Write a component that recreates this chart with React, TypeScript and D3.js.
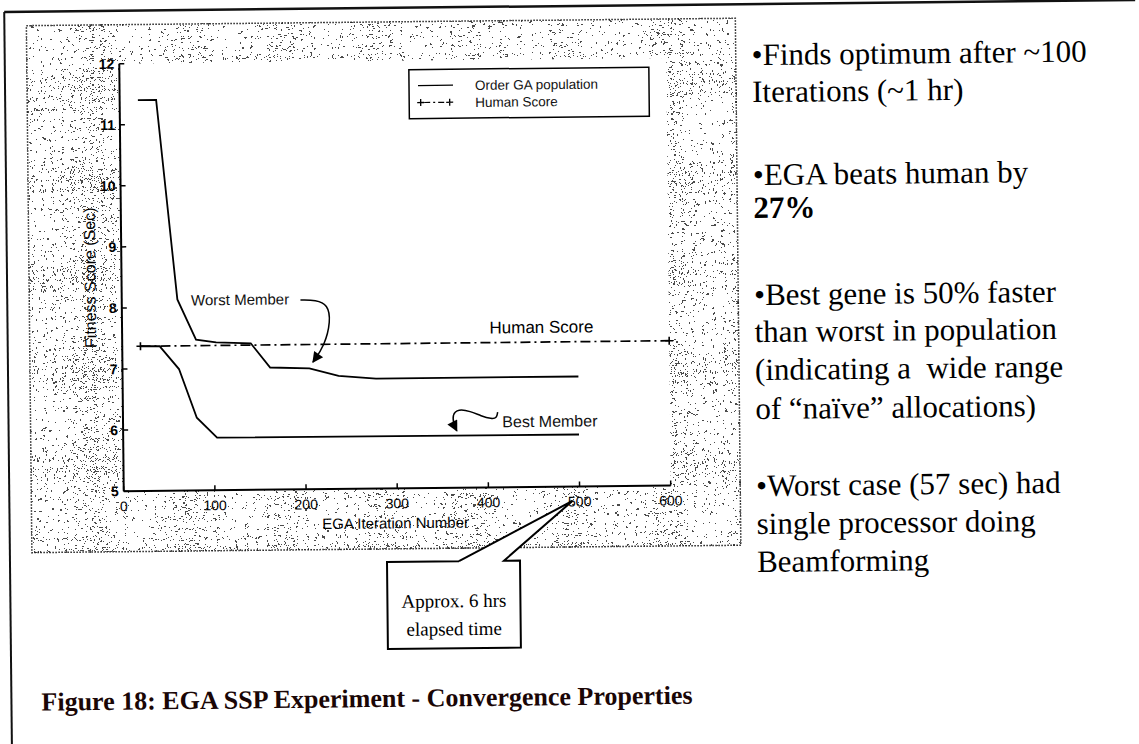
import * as d3 from 'd3';

// chart data
const iterTicks = [0, 100, 200, 300, 400, 500, 600];
const scoreTicks = [5, 6, 7, 8, 9, 10, 11, 12];

const worstIter = [20, 40, 61, 81, 103, 141, 162, 205, 237, 278, 500];
const worstScore = [11.4, 11.4, 8.13, 7.47, 7.42, 7.4, 7.0, 6.98, 6.85, 6.8, 6.8];

const bestIter = [20, 41, 62, 81, 103, 500];
const bestScore = [7.37, 7.37, 6.99, 6.19, 5.86, 5.85];

const humanIter = [20, 600];
const humanScore = [7.37, 7.37];

const legendLabels = ['Order GA population', 'Human Score'];

const notes = [
  { text: '•Finds optimum after ~100', bold: false },
  { text: 'Iterations (~1 hr)', bold: false },
  { text: '•EGA beats human by', bold: false },
  { text: '27%', bold: true },
  { text: '•Best gene is 50% faster', bold: false },
  { text: 'than worst in population', bold: false },
  { text: '(indicating a  wide range', bold: false },
  { text: 'of “naïve” allocations)', bold: false },
  { text: '•Worst case (57 sec) had', bold: false },
  { text: 'single processor doing', bold: false },
  { text: 'Beamforming', bold: false },
];
const noteBaselines = [67, 104, 187, 220, 307, 344, 382, 421, 498, 536, 574];

const caption = 'Figure 18: EGA SSP Experiment - Convergence Properties';
const callout = ['Approx. 6 hrs', 'elapsed time'];

const W = 1139;
const H = 744;
const sans = 'Liberation Sans, Arial, Helvetica, sans-serif';
const serif = 'Liberation Serif, Times New Roman, serif';

// speckle threshold for the scanned grey background
const speckle = Array.from({ length: 50 }, (_, i) => (i >= 30 ? 1 : 0)).join(' ');

export default function App() {
  const x = d3.scaleLinear().domain([0, 600]).range([122.5, 669.5]);
  const y = d3.scaleLinear().domain([5, 12]).range([486.5, 59]);

  const line = d3.line<[number, number]>().x(d => x(d[0])).y(d => y(d[1]));
  const worst = line(worstIter.map((v, i) => [v, worstScore[i]]));
  const best = line(bestIter.map((v, i) => [v, bestScore[i]]));
  const human = line(humanIter.map((v, i) => [v, humanScore[i]]));

  const curvy = d3.line<[number, number]>().x(d => x(d[0])).y(d => y(d[1])).curve(d3.curveBasis);
  const worstArrow = curvy([[196, 8.1], [213, 8.1], [226, 8.02], [229, 7.75], [222, 7.35], [209, 7.08]]);
  const bestArrow = curvy([[411, 6.23], [410, 6.13], [404, 6.12], [393, 6.17], [381, 6.25], [368, 6.29], [361, 6.2], [363, 6.02], [366, 5.93]]);

  const stip = { x: 30, y: 20, w: 709, h: 527 };

  return (
    <svg width={W} height={H} style={{ position: 'absolute', left: 0, top: 0, background: '#fff' }}>
      <defs>
        <filter id="stip" x="0" y="0" width="100%" height="100%" colorInterpolationFilters="sRGB">
          <feTurbulence type="fractalNoise" baseFrequency="3.1" numOctaves="1" seed="11" />
          <feColorMatrix type="matrix" values="0 0 0 0 0  0 0 0 0 0  0 0 0 0 0  1 0 0 0 0" />
          <feComponentTransfer>
            <feFuncA type="discrete" tableValues={speckle} />
          </feComponentTransfer>
        </filter>
        <marker id="ah" viewBox="0 0 10 10" refX="9" refY="5" markerWidth="13" markerHeight="11"
          markerUnits="userSpaceOnUse" orient="auto">
          <path d="M0,0 L10,5 L0,10 z" fill="#000" />
        </marker>
      </defs>

      <g transform="rotate(-0.6 570 370)">
        {/* page frame */}
        <line x1={8} x2={W} y1={6} y2={6} stroke="#111" strokeWidth={2.5} />
        <line x1={8} x2={8} y1={6} y2={H + 10} stroke="#111" strokeWidth={2} />

        {/* stippled chart background */}
        <rect x={stip.x} y={stip.y} width={stip.w} height={stip.h} fill="#fff" />
        <rect x={stip.x} y={stip.y} width={stip.w} height={stip.h} fill="#fff" filter="url(#stip)" opacity={0.7} />
        <rect x={stip.x} y={stip.y} width={stip.w} height={stip.h} fill="none" stroke="#222"
          strokeWidth={1.5} strokeDasharray="1.5 1.5" />

        {/* plot area */}
        <rect x={x(0)} y={y(12)} width={x(600) - x(0)} height={y(5) - y(12)} fill="#fff" />

        {/* axes */}
        <line x1={x(0)} x2={x(0)} y1={y(12)} y2={y(5)} stroke="#000" strokeWidth={2} />
        <line x1={x(0)} x2={x(600)} y1={y(5)} y2={y(5)} stroke="#000" strokeWidth={2} />
        {scoreTicks.map(t => (
          <g key={'ys' + t}>
            <line x1={x(0)} x2={x(0) + 5} y1={y(t)} y2={y(t)} stroke="#000" strokeWidth={1.5} />
            <text x={x(0) - 5} y={y(t) + 5} textAnchor="end" fontFamily={sans} fontSize={14}
              fontWeight="bold" fill="#000">{t}</text>
          </g>
        ))}
        {iterTicks.map(t => (
          <g key={'xs' + t}>
            <line x1={x(t)} x2={x(t)} y1={y(5)} y2={y(5) - 5} stroke="#000" strokeWidth={1.5} />
            <text x={x(t)} y={y(5) + 20} textAnchor="middle" fontFamily={sans} fontSize={14}
              fill="#000">{t}</text>
          </g>
        ))}
        <text x={x(300) - 2} y={y(5) + 40} textAnchor="middle" fontFamily={sans} fontSize={15} fill="#000">EGA Iteration Number</text>
        <text transform={`translate(${x(0) - 26},${y(8.5)}) rotate(-90)`} textAnchor="middle"
          fontFamily={sans} fontSize={16} fill="#000">Fitness Score (Sec)</text>

        {/* series */}
        <path d={human ?? ''} fill="none" stroke="#000" strokeWidth={1.7} strokeDasharray="10 4 2 4" />
        {humanIter.map((v, i) => (
          <path key={'hm' + i} d={`M${x(v) - 4},${y(humanScore[i])}h8M${x(v)},${y(humanScore[i]) - 4}v8`}
            stroke="#000" strokeWidth={1.6} />
        ))}
        <path d={worst ?? ''} fill="none" stroke="#000" strokeWidth={1.8} />
        <path d={best ?? ''} fill="none" stroke="#000" strokeWidth={1.8} />

        {/* annotations */}
        <text x={x(403)} y={y(7.52)} fontFamily={sans} fontSize={17} fill="#000">Human Score</text>
        <text x={x(76)} y={y(8.03)} fontFamily={sans} fontSize={15} fill="#111">Worst Member</text>
        <path d={worstArrow ?? ''} fill="none" stroke="#000" strokeWidth={1.5} markerEnd="url(#ah)" />
        <text x={x(416)} y={y(5.98)} fontFamily={sans} fontSize={16} fill="#111">Best Member</text>
        <path d={bestArrow ?? ''} fill="none" stroke="#000" strokeWidth={1.5} markerEnd="url(#ah)" />

        {/* legend */}
        <rect x={412} y={68} width={240} height={49} fill="#fff" stroke="#000" strokeWidth={1.5} />
        <line x1={421} x2={456} y1={84} y2={84} stroke="#000" strokeWidth={1.3} />
        <path d="M420,101h7M423.5,97.5v7M449,101h7M452.5,97.5v7" stroke="#000" strokeWidth={1.3} />
        <line x1={427} x2={449} y1={101} y2={101} stroke="#000" strokeWidth={1.2} strokeDasharray="6 3 2 3" />
        {legendLabels.map((l, i) => (
          <text key={l} x={478} y={89 + i * 17} fontFamily={sans} fontSize={13.5} fill="#111">{l}</text>
        ))}

        {/* right hand notes */}
        {notes.map((n, i) => (
          <text key={i} x={755} y={noteBaselines[i]} fontFamily={serif} fontSize={31}
            fontWeight={n.bold ? 'bold' : 'normal'} fill="#000" style={{ whiteSpace: 'pre' }}>{n.text}</text>
        ))}

        {/* callout */}
        <path d="M457,560 L385,560 L385,647 L518,647 L518,560 L502,560 L571,501 L457,560"
          fill="#fff" stroke="#000" strokeWidth={2} strokeLinejoin="miter" />
        {callout.map((c, i) => (
          <text key={c} x={451.5} y={606 + i * 28} textAnchor="middle" fontFamily={serif} fontSize={19} fill="#000">{c}</text>
        ))}

        {/* caption */}
        <text x={38} y={705} fontFamily={serif} fontSize={26} fontWeight="bold" fill="#1a0606">{caption}</text>
      </g>
    </svg>
  );
}
